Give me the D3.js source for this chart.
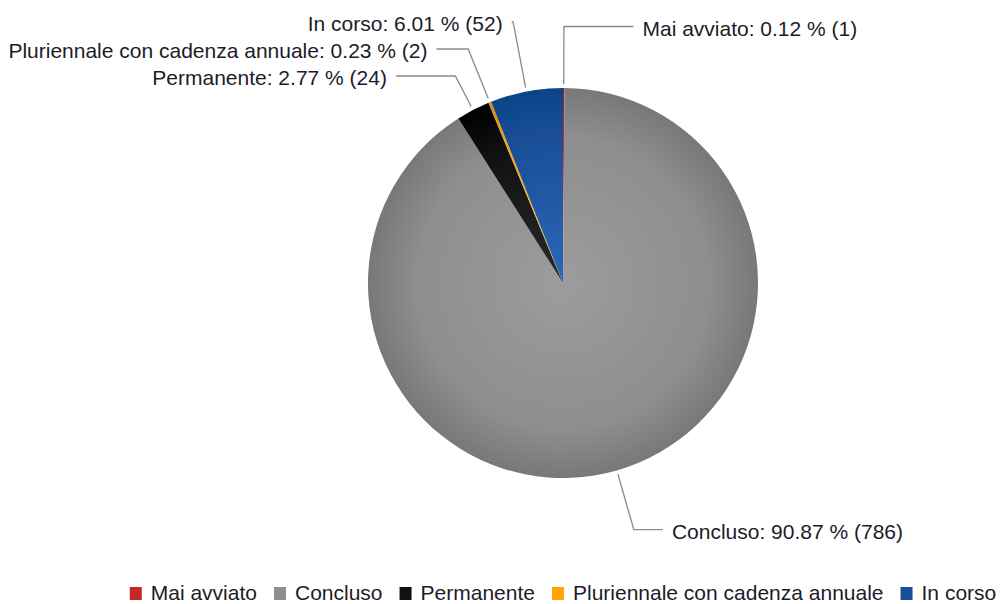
<!DOCTYPE html>
<html><head><meta charset="utf-8">
<script src="https://cdn.jsdelivr.net/npm/d3@7"></script>
<style>body{margin:0;background:#fff}svg{display:block}text{font-family:"Liberation Sans",Arial,sans-serif}</style>
</head><body><svg id="c" width="1000" height="604"></svg>
<script>
const categories = ["Mai avviato","Concluso","Permanente","Pluriennale con cadenza annuale","In corso"];
const counts = [1, 786, 24, 2, 52];
const percents = ["0.12","90.87","2.77","0.23","6.01"];
const colors = ["#c62828","#8e8e8e","#111111","#ffa500","#1a4f98"];
const centerColors = ["#e04040","#9c9c9c","#2a2a2a","#ffc040","#2d66b8"];
const edgeColors = ["#a01818","#787878","#000000","#e08c00","#0a4488"];

const W=1000,H=604, cx=563, cy=283, r=195;
const svg=d3.select("#c");
const defs=svg.append("defs");
categories.forEach((c,i)=>{
  const g=defs.append("radialGradient").attr("id","g"+i).attr("gradientUnits","userSpaceOnUse")
    .attr("cx",0).attr("cy",0).attr("r",r);
  g.append("stop").attr("offset","0").attr("stop-color",centerColors[i]);
  g.append("stop").attr("offset","0.75").attr("stop-color",colors[i]);
  g.append("stop").attr("offset","1").attr("stop-color",edgeColors[i]);
});
const pie=d3.pie().sort(null).value(d=>d)(counts);
const arc=d3.arc().innerRadius(0).outerRadius(r);
const gp=svg.append("g").attr("transform",`translate(${cx},${cy})`);
gp.selectAll("path").data(pie).join("path").attr("d",arc).attr("fill",(d,i)=>`url(#g${i})`);

// labels
const Ry=256.5, Rx=266, minGap=27, topMin=22, pad=9;
const items=pie.map((d,i)=>{
  const a=(d.startAngle+d.endAngle)/2;
  return {i,a,right:Math.sin(a)>=0,y:cy-Ry*Math.cos(a)};
});
["L","R"].forEach(side=>{
  const s=items.filter(d=>(side==="R")===d.right).sort((a,b)=>a.y-b.y);
  for(let it=0;it<100;it++){
    for(let k=1;k<s.length;k++){
      const diff=s[k].y-s[k-1].y;
      if(diff<minGap){const m=(minGap-diff)/2;s[k].y+=m;s[k-1].y-=m;}
    }
  }
  if(s.length&&s[0].y<topMin){const sh=topMin-s[0].y;s.forEach(d=>d.y+=sh);}
});
const lg=svg.append("g");
items.forEach(d=>{
  const sa=Math.sin(d.a), ca=Math.cos(d.a);
  const p0=[cx+(r+4)*sa, cy-(r+4)*ca];
  const dy=d.y-cy;
  const t=-(d.y-cy)/ca; // distance along mid-angle ray to label y
  const bx=cx+t*sa;
  const hx=cx+(d.right?1:-1)*Math.sqrt(Math.max(0,Rx*Rx-dy*dy));
  lg.append("path").attr("d",`M${p0[0]},${p0[1]}L${bx},${d.y}L${hx},${d.y}`)
    .attr("fill","none").attr("stroke","#8a8a8a").attr("stroke-width",1.3);
  lg.append("text").attr("x",hx+(d.right?pad:-pad)).attr("y",d.y).attr("dy","0.43em")
    .attr("text-anchor",d.right?"start":"end").attr("font-size",21).attr("fill","#1c1c28")
    .text(`${categories[d.i]}: ${percents[d.i]} % (${counts[d.i]})`);
});

// legend, centred under the pie
const leg=svg.append("g");
const ly=592, sw=21, gap=17;
const its=categories.map((c,i)=>{
  const g=leg.append("g");
  g.append("rect").attr("x",0).attr("y",ly-5).attr("width",12).attr("height",13).attr("fill",colors[i]);
  const t=g.append("text").attr("x",sw).attr("y",ly).attr("dy","0.38em").attr("font-size",21).attr("fill","#1c1c28").text(c);
  return {g,w:sw+t.node().getComputedTextLength()};
});
const total=d3.sum(its,d=>d.w)+gap*(its.length-1);
let x=cx-total/2;
its.forEach(d=>{d.g.attr("transform",`translate(${x},0)`);x+=d.w+gap;});
</script></body></html>
